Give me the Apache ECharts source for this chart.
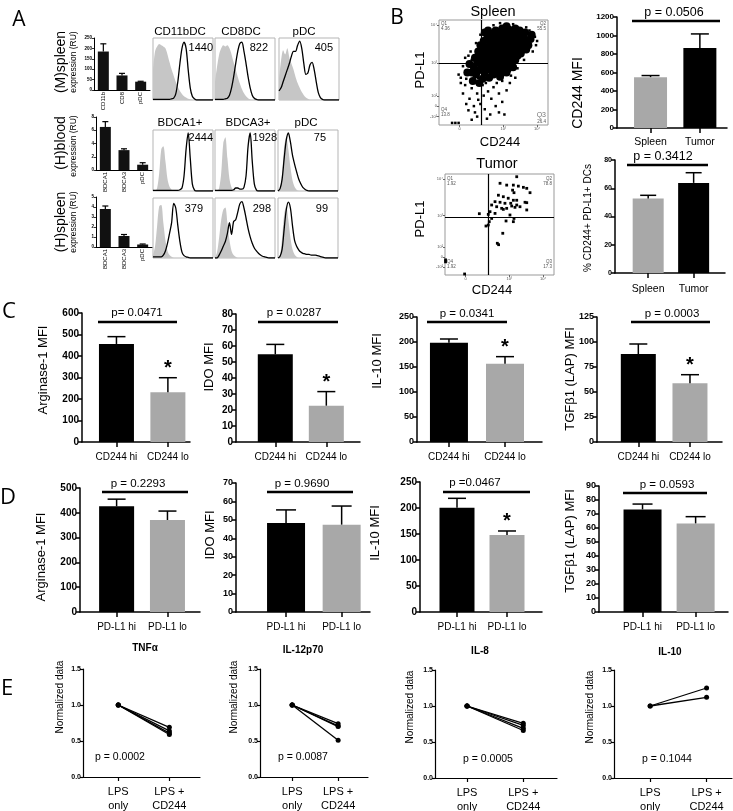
<!DOCTYPE html>
<html><head><meta charset="utf-8">
<script src="https://cdn.jsdelivr.net/npm/echarts@6/dist/echarts.min.js"></script>
<style>html,body{margin:0;padding:0;background:#fff}#c{width:733px;height:811px}</style>
</head><body><div id="c"></div>
<script>
// ---------------- DATA ----------------
// Panel A: expression bar charts
const aMCats = ['CD11b', 'CD8', 'pDC'];
const aMVals = [185, 70, 40];
const aMErr = [222, 80, 42];
const aHBCats = ['BDCA1', 'BDCA3', 'pDC'];
const aHBVals = [6.5, 3.0, 0.8];
const aHBErr = [7.3, 3.2, 1.1];
const aHSCats = ['BDCA1', 'BDCA3', 'pDC'];
const aHSVals = [3.8, 1.1, 0.25];
const aHSErr = [4.1, 1.25, 0.3];
// Panel A: histograms (30 bins, normalised counts)
const hCD11bGray = [0.5,0.8,0.88,0.92,0.9,0.88,0.85,0.75,0.62,0.5,0.4,0.3,0.22,0.15,0.1,0.06,0.04,0.02,0.01,0,0,0,0,0,0,0,0,0,0,0];
const hCD11bBlack = [0.01,0.01,0.01,0.01,0.01,0.01,0.01,0.01,0.01,0.02,0.03,0.1,0.3,0.6,0.85,0.95,0.85,0.5,0.2,0.06,0.02,0,0,0,0,0,0,0,0,0];
const hCD8Gray = [0.3,0.55,0.75,0.85,0.9,0.88,0.9,0.85,0.75,0.62,0.5,0.38,0.27,0.18,0.11,0.06,0.03,0.01,0,0,0,0,0,0,0,0,0,0,0,0];
const hCD8Black = [0.01,0.01,0.01,0.01,0.01,0.02,0.03,0.08,0.2,0.38,0.6,0.8,0.93,0.95,0.8,0.6,0.38,0.2,0.08,0.03,0.01,0,0,0,0,0,0,0,0,0];
const hMpDCGray = [0.35,0.65,0.82,0.75,0.85,0.7,0.6,0.5,0.38,0.28,0.2,0.13,0.08,0.04,0.02,0,0,0,0,0,0,0,0,0,0,0,0,0,0,0];
const hMpDCBlack = [0.15,0.2,0.3,0.4,0.5,0.6,0.72,0.8,0.8,0.9,0.97,0.85,0.6,0.42,0.45,0.58,0.62,0.5,0.3,0.12,0.04,0.01,0,0,0,0,0,0,0,0];
const hBBDCA1Gray = [0,0,0.05,0.3,0.7,0.75,0.5,0.2,0.07,0.02,0,0,0,0,0,0,0,0,0,0,0,0,0,0,0,0,0,0,0,0];
const hBBDCA1Black = [0.01,0.01,0.01,0.01,0.01,0.01,0.01,0.01,0.01,0.01,0.01,0.01,0.01,0.02,0.05,0.25,0.7,0.97,0.55,0.12,0.02,0,0,0,0,0,0,0,0,0];
const hBBDCA3Gray = [0,0,0.05,0.3,0.8,0.9,0.55,0.2,0.06,0.02,0,0,0,0,0,0,0,0,0,0,0,0,0,0,0,0,0,0,0,0];
const hBBDCA3Black = [0.01,0.01,0.01,0.01,0.01,0.01,0.01,0.01,0.01,0.02,0.05,0.05,0.03,0.03,0.06,0.25,0.75,0.97,0.5,0.12,0.02,0,0,0,0,0,0,0,0,0];
const hBpDCGray = [0,0.05,0.3,0.75,0.9,0.7,0.4,0.18,0.07,0.02,0,0,0,0,0,0,0,0,0,0,0,0,0,0,0,0,0,0,0,0];
const hBpDCBlack = [0,0.04,0.2,0.55,0.85,0.97,0.82,0.6,0.45,0.32,0.2,0.12,0.06,0.03,0.01,0,0,0,0,0,0,0,0,0,0,0,0,0,0,0];
const hSBDCA1Gray = [0.05,0.2,0.55,0.88,0.9,0.6,0.3,0.12,0.05,0.02,0,0,0,0,0,0,0,0,0,0,0,0,0,0,0,0,0,0,0,0];
const hSBDCA1Black = [0.02,0.02,0.02,0.02,0.02,0.05,0.12,0.25,0.42,0.6,0.93,0.85,0.55,0.28,0.1,0.04,0.02,0.01,0,0,0,0,0,0,0,0,0,0,0,0];
const hSBDCA3Gray = [0,0.1,0.35,0.65,0.82,0.86,0.6,0.3,0.12,0.05,0.02,0,0,0,0,0,0,0,0,0,0,0,0,0,0,0,0,0,0,0];
const hSBDCA3Black = [0,0,0.05,0.12,0.2,0.28,0.42,0.6,0.4,0.62,0.65,0.78,0.92,0.96,0.85,0.68,0.5,0.36,0.25,0.17,0.12,0.08,0.05,0.03,0.02,0.01,0,0,0,0];
const hSpDCGray = [0,0.05,0.35,0.75,0.88,0.65,0.35,0.15,0.06,0.02,0,0,0,0,0,0,0,0,0,0,0,0,0,0,0,0,0,0,0,0];
const hSpDCBlack = [0,0.03,0.15,0.5,0.82,0.95,0.85,0.55,0.3,0.2,0.14,0.1,0.08,0.07,0.06,0.06,0.05,0.05,0.05,0.04,0.03,0.02,0.01,0,0,0,0,0,0,0];
// Panel B: flow plots (arbitrary 0-100 display units)
const spleenCore = [[30,50],[32,55],[34,48],[35,60],[36,52],[38,58],[38,65],[40,55],[40,62],[41,70],[42,50],[43,60],[43,67],[44,74],[45,56],[45,63],[46,70],[47,78],[48,52],[48,60],[48,66],[49,73],[50,80],[50,58],[51,64],[52,70],[52,76],[53,83],[53,55],[54,61],[54,67],[55,73],[55,79],[56,86],[57,58],[57,64],[58,70],[58,76],[59,82],[60,88],[60,61],[61,67],[62,73],[62,79],[63,85],[64,64],[64,70],[65,76],[65,82],[66,88],[67,67],[67,73],[68,79],[68,85],[69,70],[70,76],[70,82],[71,87],[72,73],[73,79],[73,84],[74,76],[75,81],[76,86],[77,78],[78,83],[79,88],[80,80],[44,82],[47,86],[52,90],[58,92],[64,91],[70,92],[36,70],[38,76],[41,80],[33,64],[55,52],[60,55],[65,58],[70,62],[75,68],[80,72],[82,76],[62,50],[68,55],[50,48],[56,46],[46,45],[40,44],[28,58],[26,50],[31,42],[37,40],[62,94],[74,90],[84,82],[85,86],[45,90],[57,49],[63,53],[72,66],[77,72],[42,88],[49,84],[66,60],[59,67],[53,69],[46,58]];
const spleenTail = [[30,35],[35,30],[28,25],[40,38],[45,32],[50,36],[38,20],[42,15],[33,12],[48,25],[55,30],[25,20],[22,30],[20,40],[35,8],[44,6],[52,18],[58,22],[30,5],[60,10],[18,48],[24,38],[65,40],[70,45],[55,12],[47,10],[27,14],[12,2],[15,2],[18,2],[36,24],[41,28],[53,40],[62,33],[32,18],[22,56],[24,64],[29,70],[34,78],[38,86],[50,95],[68,96],[80,93],[88,84],[89,76],[86,70],[78,62],[72,54],[66,47],[58,42],[43,40],[20,45],[25,44],[36,45],[30,62],[27,66],[90,80],[83,90],[56,97]];
const spleenGate = [39, 59];
const tumorPts = [[65.8,97.3],[50.5,90.8],[56.6,89],[62.7,89],[67.3,88],[71.9,86.8],[75,85.8],[78,81.5],[62,84],[63.3,81.5],[49,79],[53.5,77.5],[58,76],[62.7,74],[65.8,74],[45.9,72.6],[50.5,72],[55,71],[60.3,71],[73.4,72],[42.8,69.3],[47.4,67.6],[52,66],[56.6,66],[61.2,68.3],[64.2,67],[68.8,67.6],[75,64.4],[41.3,62.7],[45.9,61],[39.7,60],[31.5,60.7],[65.8,69.3],[59.6,59.4],[53.5,65],[42.8,56],[40.6,52.8],[37.6,48.5],[39.7,49.5],[56,53.5],[62.7,52.8],[63.3,56],[53,41.3],[48,31.4],[49.2,30],[75,71.6],[0.5,15],[0.5,13],[18,1]];
const tumorGate = [39.5, 57];
const flowYTickVals = [95, 59, 27.6, 18, 8];
const flowYTickLabels = ['10\u2074', '10\u00B3', '10\u00B2', '0', '-10\u00B2'];
const flowXTickVals = [19, 59, 90];
const flowXTickLabels = ['0', '10\u00B3', '10\u2074'];
const bCats = ['Spleen', 'Tumor'];
const bCD244Mfi = [550, 865];
const bCD244MfiErr = [567, 1017];
const bDoublePos = [52.7, 63.8];
const bDoublePosErr = [55, 71];
// Panel C
const cCats = ['CD244 hi', 'CD244 lo'];
const cArg = [456, 231];   const cArgErr = [490, 299];
const cIdo = [54.8, 22.7]; const cIdoErr = [61, 31.5];
const cIl10 = [198.7, 156.7]; const cIl10Err = [206, 170.7];
const cTgf = [88, 58.7];   const cTgfErr = [98, 67.3];
// Panel D
const dCats = ['PD-L1 hi', 'PD-L1 lo'];
const dArg = [426, 371];   const dArgErr = [455, 407];
const dIdo = [48.3, 47.4]; const dIdoErr = [55.4, 57.5];
const dIl10 = [200.6, 148]; const dIl10Err = [218.6, 155.8];
const dTgf = [73.3, 63.3]; const dTgfErr = [77.1, 68.1];
// Panel E (normalised, LPS only = 1)
const eCats = ['LPS\nonly', 'LPS +\nCD244'];
const eTnfLps = [1, 1, 1, 1];       const eTnfCd244 = [0.69, 0.64, 0.61, 0.59];
const eIl12Lps = [1, 1, 1, 1];      const eIl12Cd244 = [0.74, 0.71, 0.70, 0.51];
const eIl8Lps = [1, 1, 1, 1];       const eIl8Cd244 = [0.76, 0.73, 0.69, 0.66];
const eIl10Lps = [1, 1];            const eIl10Cd244 = [1.25, 1.12];

// ---------------- BUILD ----------------
const FONT = '"Liberation Sans", Arial, sans-serif';
const BLACK = '#000', GRAY = '#a8a8a8';
const grids = [], xAxes = [], yAxes = [], series = [], graphic = [];
function addGrid(l, t, w, h, extra) {
  grids.push(Object.assign({left: l, top: t, width: w, height: h, containLabel: false, outerBoundsMode: 'none'}, extra || {}));
  return grids.length - 1;
}
function txt(x, y, text, o) {
  o = o || {};
  graphic.push({type: 'text', x: x, y: y, rotation: o.rot || 0, silent: true, z: 50,
    style: {text: text, fill: o.color || '#000', font: (o.weight || 'normal') + ' ' + (o.size || 11) + 'px ' + (o.family || FONT),
      align: o.align || 'center', verticalAlign: o.va || 'middle'}});
}
function hline(x1, x2, y, w) {
  graphic.push({type: 'line', silent: true, z: 50, shape: {x1: x1, y1: y, x2: x2, y2: y}, style: {stroke: '#000', lineWidth: w || 2.5}});
}
function makeErr(capHalf, lw, starSize) {
  return function (params, api) {
    const x = api.value(0), m = api.value(1), u = api.value(2), star = api.value(3);
    const p0 = api.coord([x, m]), p1 = api.coord([x, u]);
    const ch = [
      {type: 'line', shape: {x1: p0[0], y1: p0[1], x2: p1[0], y2: p1[1]}, style: {stroke: '#000', lineWidth: lw}},
      {type: 'line', shape: {x1: p1[0] - capHalf, y1: p1[1], x2: p1[0] + capHalf, y2: p1[1]}, style: {stroke: '#000', lineWidth: lw}}
    ];
    if (star) ch.push({type: 'text', style: {text: '*', x: p1[0], y: p1[1] + 1, fill: '#000', font: 'bold ' + (starSize || 20) + 'px ' + FONT, align: 'center', verticalAlign: 'bottom'}});
    return {type: 'group', children: ch};
  };
}
function axLine(w) { return {show: true, onZero: false, lineStyle: {color: '#000', width: w}}; }
function plain(v) { return String(v); }

function barPanel(c) {
  const gi = addGrid(c.left, c.top, c.width, c.height);
  const lw = c.lw || 1.5;
  xAxes.push({gridIndex: gi, type: 'value', min: c.xmin, max: c.xmax, axisLine: axLine(lw),
    axisTick: {show: true, customValues: [0, 1], length: 5, lineStyle: {color: '#000', width: lw}},
    axisLabel: {show: true, customValues: [0, 1], formatter: function (v) { return c.cats[Math.round(v)]; },
      fontSize: c.catFont, fontFamily: FONT, color: '#000', margin: c.catMargin || 10},
    splitLine: {show: false}});
  yAxes.push({gridIndex: gi, type: 'value', min: 0, max: c.ymax, interval: c.interval, axisLine: axLine(lw),
    axisTick: {show: true, length: 4, lineStyle: {color: '#000', width: lw}},
    axisLabel: {fontSize: c.tickFont, fontWeight: 'bold', fontFamily: FONT, color: '#000', margin: 3, formatter: plain},
    splitLine: {show: false}});
  const xi = xAxes.length - 1, yi = yAxes.length - 1;
  series.push({type: 'bar', xAxisIndex: xi, yAxisIndex: yi, barWidth: c.barWidth, silent: true,
    data: c.vals.map(function (v, i) { return {value: [i, v], itemStyle: {color: c.colors[i]}}; })});
  series.push({type: 'custom', xAxisIndex: xi, yAxisIndex: yi, clip: false, silent: true, z: 3,
    renderItem: makeErr(c.cap, lw, c.starSize), encode: {x: 0, y: [1, 2]},
    data: c.vals.map(function (v, i) { return [i, v, c.errs[i], c.stars ? c.stars[i] : 0]; })});
}

function aBar(c) {
  const gi = addGrid(c.left, c.top, c.width, c.height);
  xAxes.push({gridIndex: gi, type: 'category', data: c.cats, axisLine: axLine(1), axisTick: {show: false},
    axisLabel: {rotate: 90, fontSize: 6, fontFamily: FONT, color: '#000', margin: 2, interval: 0}, splitLine: {show: false}});
  yAxes.push({gridIndex: gi, type: 'value', min: 0, max: c.ymax, interval: c.interval, axisLine: axLine(1),
    axisTick: {show: true, length: 2, lineStyle: {color: '#000', width: 0.8}},
    axisLabel: {fontSize: 4.5, fontWeight: 'bold', fontFamily: FONT, color: '#000', margin: 2, formatter: plain}, splitLine: {show: false}});
  const xi = xAxes.length - 1, yi = yAxes.length - 1;
  series.push({type: 'bar', xAxisIndex: xi, yAxisIndex: yi, barWidth: 11, silent: true, itemStyle: {color: '#111'}, data: c.vals});
  series.push({type: 'custom', xAxisIndex: xi, yAxisIndex: yi, clip: false, silent: true, z: 3,
    renderItem: makeErr(3, 1.2), encode: {x: 0, y: [1, 2]},
    data: c.vals.map(function (v, i) { return [i, v, c.errs[i], 0]; })});
}

function histPanel(left, top, w, h, gray, black) {
  const gi = addGrid(left, top, w, h, {show: true, borderColor: '#b5b5b5', borderWidth: 1});
  xAxes.push({gridIndex: gi, type: 'value', min: 0, max: 29, show: false});
  yAxes.push({gridIndex: gi, type: 'value', min: 0, max: 1.02, show: false});
  const xi = xAxes.length - 1, yi = yAxes.length - 1;
  series.push({type: 'line', xAxisIndex: xi, yAxisIndex: yi, silent: true, symbol: 'none', smooth: 0.3,
    lineStyle: {width: 0}, areaStyle: {color: '#c6c6c6', opacity: 1},
    data: gray.map(function (v, i) { return [i, v]; })});
  series.push({type: 'line', xAxisIndex: xi, yAxisIndex: yi, silent: true, symbol: 'none', smooth: 0.3,
    lineStyle: {width: 1.3, color: '#000'}, z: 3,
    data: black.map(function (v, i) { return [i, v]; })});
}

function flowPanel(left, top, w, h, sets, gate) {
  const gi = addGrid(left, top, w, h, {show: true, borderColor: '#999', borderWidth: 1});
  xAxes.push({gridIndex: gi, type: 'value', min: 0, max: 100, axisLine: {show: false},
    axisTick: {show: true, customValues: flowXTickVals, length: 2, lineStyle: {color: '#666'}},
    axisLabel: {show: true, customValues: flowXTickVals, formatter: function (v) { return flowXTickLabels[flowXTickVals.indexOf(v)]; }, fontSize: 4, color: '#555', margin: 2},
    splitLine: {show: false}});
  yAxes.push({gridIndex: gi, type: 'value', min: 0, max: 100, axisLine: {show: false},
    axisTick: {show: true, customValues: flowYTickVals, length: 2, lineStyle: {color: '#666'}},
    axisLabel: {show: true, customValues: flowYTickVals, formatter: function (v) { return flowYTickLabels[flowYTickVals.indexOf(v)]; }, fontSize: 4, color: '#555', margin: 2},
    splitLine: {show: false}});
  const xi = xAxes.length - 1, yi = yAxes.length - 1;
  sets.forEach(function (s, k) {
    const ser = {type: 'scatter', xAxisIndex: xi, yAxisIndex: yi, silent: true, symbol: s.symbol || 'rect', symbolSize: s.size,
      itemStyle: {color: '#000', opacity: 1, borderWidth: 0}, data: s.data};
    if (k === 0) ser.markLine = {silent: true, symbol: 'none', label: {show: false}, animation: false,
      lineStyle: {color: '#000', width: 1.2, type: 'solid'}, data: [{xAxis: gate[0]}, {yAxis: gate[1]}]};
    series.push(ser);
  });
}

function ePanel(c) {
  const gi = addGrid(c.left, c.top, c.width, c.height);
  xAxes.push({gridIndex: gi, type: 'value', min: c.xmin, max: c.xmax, axisLine: axLine(1.2),
    axisTick: {show: true, customValues: [0, 1], length: 4, lineStyle: {color: '#000', width: 1.2}},
    axisLabel: {show: true, customValues: [0, 1], formatter: function (v) { return eCats[Math.round(v)]; },
      fontSize: 11, lineHeight: 14, fontFamily: FONT, color: '#000', margin: 8},
    splitLine: {show: false}});
  yAxes.push({gridIndex: gi, type: 'value', min: 0, max: 1.5, interval: 0.5, axisLine: axLine(1.2),
    axisTick: {show: true, length: 3, lineStyle: {color: '#000', width: 1.2}},
    axisLabel: {fontSize: 7, fontWeight: 'bold', fontFamily: FONT, color: '#000', margin: 2,
      formatter: function (v) { return v.toFixed(1); }}, splitLine: {show: false}});
  const xi = xAxes.length - 1, yi = yAxes.length - 1;
  c.after.forEach(function (v, i) {
    series.push({type: 'line', xAxisIndex: xi, yAxisIndex: yi, silent: true, symbol: 'circle', symbolSize: 5,
      itemStyle: {color: '#000'}, lineStyle: {color: '#000', width: 1.3},
      data: [[0, c.before[i]], [1, v]]});
  });
}

// ---- Panel A ----
aBar({left: 94, top: 38, width: 56, height: 52, ymax: 250, interval: 50, cats: aMCats, vals: aMVals, errs: aMErr});
aBar({left: 96, top: 117, width: 56, height: 53, ymax: 8, interval: 2, cats: aHBCats, vals: aHBVals, errs: aHBErr});
aBar({left: 96, top: 197, width: 56, height: 50, ymax: 5, interval: 1, cats: aHSCats, vals: aHSVals, errs: aHSErr});
histPanel(153, 38, 60, 62, hCD11bGray, hCD11bBlack);
histPanel(215, 38, 60, 62, hCD8Gray, hCD8Black);
histPanel(279, 38, 60, 62, hMpDCGray, hMpDCBlack);
histPanel(153, 130, 60, 61, hBBDCA1Gray, hBBDCA1Black);
histPanel(215, 130, 60, 61, hBBDCA3Gray, hBBDCA3Black);
histPanel(278, 130, 60, 61, hBpDCGray, hBpDCBlack);
histPanel(153, 198, 60, 60, hSBDCA1Gray, hSBDCA1Black);
histPanel(215, 198, 60, 60, hSBDCA3Gray, hSBDCA3Black);
histPanel(278, 198, 60, 60, hSpDCGray, hSpDCBlack);

// ---- Panel B ----
flowPanel(439, 20, 109, 105, [{data: spleenCore, size: 8, symbol: 'circle'}, {data: spleenTail, size: 2.5}], spleenGate);
flowPanel(445, 174, 109, 101, [{data: tumorPts, size: 2.8}], tumorGate);
barPanel({left: 617, top: 17, width: 110, height: 111, xmin: -0.68, xmax: 1.55, ymax: 1200, interval: 200,
  cats: bCats, vals: bCD244Mfi, errs: bCD244MfiErr, colors: [GRAY, BLACK], barWidth: 33, cap: 9, tickFont: 8, catFont: 10.5, catMargin: 9});
barPanel({left: 615, top: 160, width: 110, height: 113, xmin: -0.73, xmax: 1.69, ymax: 80, interval: 20,
  cats: bCats, vals: bDoublePos, errs: bDoublePosErr, colors: [GRAY, BLACK], barWidth: 31, cap: 8, tickFont: 7, catFont: 10.5, catMargin: 11});

// ---- Panel C ----
barPanel({left: 82, top: 313, width: 108, height: 129, xmin: -0.67, xmax: 1.43, ymax: 600, interval: 100,
  cats: cCats, vals: cArg, errs: cArgErr, colors: [BLACK, GRAY], stars: [0, 1], barWidth: 35, cap: 9, tickFont: 10, catFont: 10});
barPanel({left: 236, top: 314, width: 124, height: 128, xmin: -0.77, xmax: 1.66, ymax: 80, interval: 10,
  cats: cCats, vals: cIdo, errs: cIdoErr, colors: [BLACK, GRAY], stars: [0, 1], barWidth: 35, cap: 9, tickFont: 10, catFont: 10});
barPanel({left: 417, top: 317, width: 125, height: 125, xmin: -0.57, xmax: 1.66, ymax: 250, interval: 50,
  cats: cCats, vals: cIl10, errs: cIl10Err, colors: [BLACK, GRAY], stars: [0, 1], barWidth: 38, cap: 9, tickFont: 9, catFont: 10});
barPanel({left: 597, top: 317, width: 125, height: 125, xmin: -0.8, xmax: 1.62, ymax: 125, interval: 25,
  cats: cCats, vals: cTgf, errs: cTgfErr, colors: [BLACK, GRAY], stars: [0, 1], barWidth: 35, cap: 9, tickFont: 9, catFont: 10});

// ---- Panel D ----
barPanel({left: 80, top: 488, width: 120, height: 124, xmin: -0.72, xmax: 1.64, ymax: 500, interval: 100,
  cats: dCats, vals: dArg, errs: dArgErr, colors: [BLACK, GRAY], barWidth: 35, cap: 9, tickFont: 10, catFont: 10});
barPanel({left: 236, top: 483, width: 134, height: 129, xmin: -0.9, xmax: 1.51, ymax: 70, interval: 10,
  cats: dCats, vals: dIdo, errs: dIdoErr, colors: [BLACK, GRAY], barWidth: 38, cap: 10, tickFont: 9, catFont: 10});
barPanel({left: 420, top: 482, width: 122, height: 130, xmin: -0.74, xmax: 1.7, ymax: 250, interval: 50,
  cats: dCats, vals: dIl10, errs: dIl10Err, colors: [BLACK, GRAY], stars: [0, 1], barWidth: 35, cap: 9, tickFont: 10, catFont: 10});
barPanel({left: 599, top: 486, width: 129, height: 126, xmin: -0.82, xmax: 1.61, ymax: 90, interval: 10,
  cats: dCats, vals: dTgf, errs: dTgfErr, colors: [BLACK, GRAY], barWidth: 38, cap: 10, tickFont: 9, catFont: 10});

// ---- Panel E ----
ePanel({left: 83, top: 669, width: 117, height: 108, xmin: -0.69, xmax: 1.6, before: eTnfLps, after: eTnfCd244});
ePanel({left: 260, top: 669, width: 108, height: 108, xmin: -0.7, xmax: 1.65, before: eIl12Lps, after: eIl12Cd244});
ePanel({left: 435, top: 670, width: 122, height: 108, xmin: -0.57, xmax: 1.6, before: eIl8Lps, after: eIl8Cd244});
ePanel({left: 614, top: 670, width: 118, height: 108, xmin: -0.64, xmax: 1.45, before: eIl10Lps, after: eIl10Cd244});

// ---------------- TEXT ANNOTATIONS ----------------
const R = Math.PI / 2;
const LETTER = '"Open Sans", "Liberation Sans", sans-serif';
txt(19, 20, 'A', {size: 21, family: LETTER});
txt(397, 18, 'B', {size: 21, family: LETTER});
txt(9, 312, 'C', {size: 22, family: LETTER});
txt(8, 498, 'D', {size: 22, family: LETTER});
txt(7, 689, 'E', {size: 22, family: LETTER});
// A labels
txt(61, 62, '(M)spleen', {size: 14, rot: R});
txt(74, 62, 'expression (RU)', {size: 8.5, rot: R});
txt(61, 143, '(H)blood', {size: 14, rot: R});
txt(74, 146, 'expression (RU)', {size: 8.5, rot: R});
txt(61, 222, '(H)spleen', {size: 14, rot: R});
txt(74, 222, 'expression (RU)', {size: 8.5, rot: R});
txt(180, 32, 'CD11bDC', {size: 11.5});
txt(241, 32, 'CD8DC', {size: 11.5});
txt(304, 32, 'pDC', {size: 11.5});
txt(180, 123, 'BDCA1+', {size: 11.5});
txt(248, 123, 'BDCA3+', {size: 11.5});
txt(306, 123, 'pDC', {size: 11.5});
txt(213, 48, '1440', {size: 11, align: 'right'});
txt(268, 48, '822', {size: 11, align: 'right'});
txt(333, 48, '405', {size: 11, align: 'right'});
txt(213, 138, '2444', {size: 11, align: 'right'});
txt(277, 138, '1928', {size: 11, align: 'right'});
txt(326, 138, '75', {size: 11, align: 'right'});
txt(203, 209, '379', {size: 11, align: 'right'});
txt(271, 209, '298', {size: 11, align: 'right'});
txt(328, 209, '99', {size: 11, align: 'right'});
// B labels
txt(493, 12, 'Spleen', {size: 14.5});
txt(420, 70, 'PD-L1', {size: 13, rot: R});
txt(500, 142, 'CD244', {size: 13});
txt(497, 164, 'Tumor', {size: 14.5});
txt(420, 219, 'PD-L1', {size: 13, rot: R});
txt(492, 290, 'CD244', {size: 13});
const qs = {size: 4.5, color: '#555', align: 'left'};
const qr = {size: 4.5, color: '#555', align: 'right'};
txt(441, 24, 'Q1', qs); txt(441, 29, '4.36', qs);
txt(546, 24, 'Q2', qr); txt(546, 29, '55.5', qr);
txt(441, 110, 'Q4', qs); txt(441, 115, '13.8', qs);
txt(546, 115, 'Q3', {size: 7, color: '#777', align: 'right'}); txt(546, 122, '26.4', qr);
txt(447, 179, 'Q1', qs); txt(447, 184, '1.92', qs);
txt(552, 179, 'Q2', qr); txt(552, 184, '78.8', qr);
txt(447, 262, 'Q4', qs); txt(447, 267, '1.92', qs);
txt(552, 262, 'Q3', qr); txt(552, 267, '17.3', qr);
txt(578, 93, 'CD244 MFI', {size: 14, rot: R});
txt(588, 218, '% CD244+ PD-L1+ DCs', {size: 10, rot: R});
txt(674, 13, 'p = 0.0506', {size: 12.5});
hline(632, 720, 21, 2.5);
txt(663, 157, 'p = 0.3412', {size: 12.5});
hline(627, 708, 165, 2.5);
// C labels
txt(43, 370, 'Arginase-1 MFI', {size: 13, rot: R});
txt(209, 367, 'IDO MFI', {size: 13, rot: R});
txt(377, 361, 'IL-10 MFI', {size: 13, rot: R});
txt(570, 379, 'TGF\u03B21 (LAP) MFI', {size: 13, rot: R});
txt(137, 313, 'p= 0.0471', {size: 11.5});
hline(98, 177, 322, 2.5);
txt(294, 313, 'p = 0.0287', {size: 11.5});
hline(258, 338, 322, 2.5);
txt(467, 314, 'p = 0.0341', {size: 11.5});
hline(427, 507, 322, 2.5);
txt(672, 314, 'p = 0.0003', {size: 11.5});
hline(631, 710, 322, 2.5);
// D labels
txt(41, 557, 'Arginase-1 MFI', {size: 13, rot: R});
txt(210, 535, 'IDO MFI', {size: 13, rot: R});
txt(375, 533, 'IL-10 MFI', {size: 13, rot: R});
txt(570, 541, 'TGF\u03B21 (LAP) MFI', {size: 13, rot: R});
txt(138, 484, 'p = 0.2293', {size: 11.5});
hline(102, 188, 492, 2.5);
txt(302, 484, 'p = 0.9690', {size: 11.5});
hline(267, 353, 492, 2.5);
txt(475, 483, 'p =0.0467', {size: 11.5});
hline(443, 530, 492, 2.5);
txt(667, 485, 'p = 0.0593', {size: 11.5});
hline(623, 707, 493, 2.5);
// E labels
txt(145, 648, 'TNF\u03B1', {size: 10, weight: 'bold'});
txt(303, 650, 'IL-12p70', {size: 10, weight: 'bold'});
txt(480, 651, 'IL-8', {size: 10, weight: 'bold'});
txt(670, 652, 'IL-10', {size: 10, weight: 'bold'});
txt(60, 697, 'Normalized data', {size: 10, rot: R});
txt(234, 697, 'Normalized data', {size: 10, rot: R});
txt(410, 707, 'Normalized data', {size: 10, rot: R});
txt(590, 707, 'Normalized data', {size: 10, rot: R});
txt(120, 757, 'p = 0.0002', {size: 10.5});
txt(303, 757, 'p = 0.0087', {size: 10.5});
txt(488, 759, 'p = 0.0005', {size: 10.5});
txt(667, 759, 'p = 0.1044', {size: 10.5});

const chart = echarts.init(document.getElementById('c'), null, {renderer: 'canvas'});
chart.setOption({
  animation: false,
  backgroundColor: '#fff',
  textStyle: {fontFamily: FONT},
  grid: grids, xAxis: xAxes, yAxis: yAxes, series: series, graphic: graphic
});
</script></body></html>
